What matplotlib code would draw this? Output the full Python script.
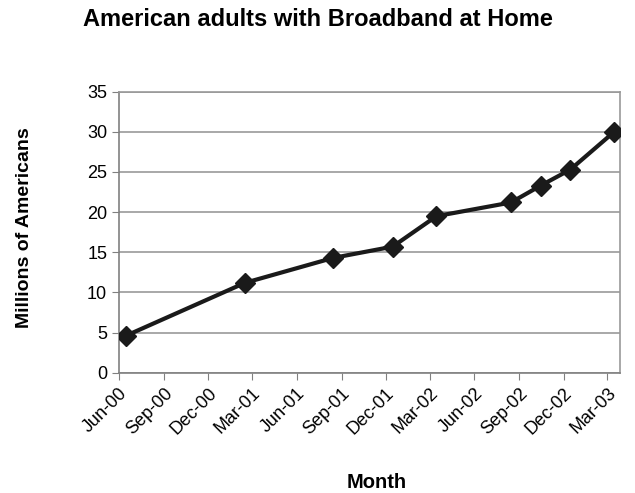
import matplotlib
matplotlib.use("Agg")
import matplotlib.pyplot as plt
import matplotlib.dates as mdates
import pandas as pd

plt.rcParams['font.family'] = ['Liberation Sans', 'DejaVu Sans']

# survey dates and broadband adults (millions)
dates = ["2000-06-15", "2001-02-15", "2001-08-15", "2001-12-15", "2002-03-15",
         "2002-08-15", "2002-10-15", "2002-12-15", "2003-03-15"]
millions = [4.6, 11.2, 14.3, 15.7, 19.5, 21.2, 23.3, 25.3, 30.0]

x = pd.to_datetime(dates)

fig = plt.figure(figsize=(6.35, 4.93), dpi=100)
ax = fig.add_axes([0.1874, 0.244, 0.789, 0.570])

ax.plot(x, millions, color='#1a1a1a', linewidth=3, marker='D', markersize=10,
        markerfacecolor='#1a1a1a', markeredgecolor='#1a1a1a', zorder=3)

ax.set_ylim(0, 35)
ax.set_yticks(range(0, 36, 5))
ax.set_xlim(pd.Timestamp("2000-06-01"), pd.Timestamp("2003-03-27"))
ax.xaxis.set_major_locator(mdates.MonthLocator(bymonth=[3, 6, 9, 12], bymonthday=1))
ax.xaxis.set_major_formatter(mdates.DateFormatter('%b-%y'))

ax.yaxis.grid(True, color='#999999', linewidth=1.2)
ax.set_axisbelow(True)
for s in ax.spines.values():
    s.set_color('#999999')
    s.set_linewidth(1.2)
ax.spines['left'].set_color('#808080')
ax.spines['bottom'].set_color('#808080')

ax.tick_params(axis='both', labelsize=13, color='#808080', length=5)
plt.setp(ax.get_xticklabels(), rotation=45, ha='right', rotation_mode='anchor')

fig.text(0.5, 0.961, "American adults with Broadband at Home", ha='center', va='center',
         fontsize=17, fontweight='bold')
fig.text(0.039, 0.539, "Millions of Americans", ha='center', va='center', rotation=90,
         fontsize=14, fontweight='bold')
fig.text(0.593, 0.022, "Month", ha='center', va='center', fontsize=14.5, fontweight='bold')

fig.savefig("out.png", dpi=100)
